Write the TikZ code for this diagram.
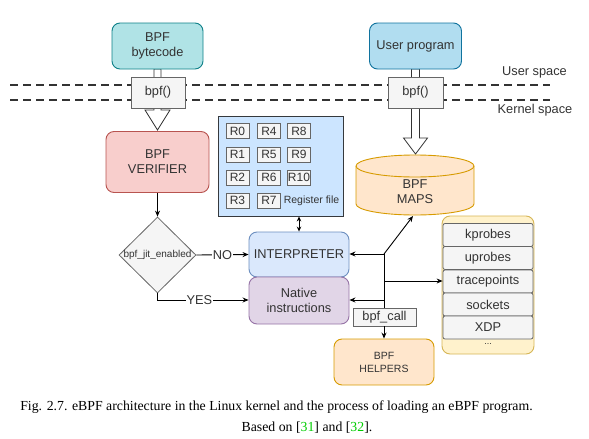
\documentclass[tikz,border=0pt]{standalone}
\usepackage{fontspec}
\setmainfont{Liberation Sans}
\newfontfamily\capfont{Liberation Serif}
\usetikzlibrary{arrows.meta,shapes.geometric}
\definecolor{tealF}{HTML}{B0E3E6}\definecolor{tealS}{HTML}{0E8088}
\definecolor{upF}{HTML}{B1DDF0}\definecolor{upS}{HTML}{10739E}
\definecolor{grF}{HTML}{F5F5F5}\definecolor{grS}{HTML}{666666}
\definecolor{rdF}{HTML}{F8CECC}\definecolor{rdS}{HTML}{B85450}
\definecolor{rfF}{HTML}{CCE5FF}\definecolor{rfS}{HTML}{36393D}
\definecolor{blF}{HTML}{DAE8FC}\definecolor{blS}{HTML}{6C8EBF}
\definecolor{puF}{HTML}{E1D5E7}\definecolor{puS}{HTML}{9673A6}
\definecolor{orF}{HTML}{FFE6CC}\definecolor{orS}{HTML}{D79B00}
\definecolor{yeF}{HTML}{FFF2CC}\definecolor{yeS}{HTML}{D6B656}
\definecolor{txt}{HTML}{333333}
\definecolor{citeG}{HTML}{00CC00}
\tikzset{
  box/.style={draw, line width=0.9pt, rounded corners=8pt, align=center, inner sep=0pt, text=txt,
    font=\fontsize{12.8}{15}\selectfont},
  gbox/.style={draw=grS, fill=grF, line width=0.8pt, inner sep=0pt, text=txt,
    font=\fontsize{12.8}{15}\selectfont},
  reg/.style={gbox, minimum width=23pt, minimum height=15pt, font=\fontsize{12}{14}\selectfont},
  item/.style={gbox, rounded corners=2pt, minimum width=90pt, minimum height=23pt, font=\fontsize{12.8}{15}\selectfont},
  conn/.style={line width=0.9pt, -{Stealth[length=6pt,width=5pt]}},
  blockarrow/.style={draw=txt, fill=white, line width=0.8pt},
  lbl/.style={fill=white, inner sep=1pt, text=txt, font=\fontsize{12.8}{15}\selectfont},
}
\begin{document}
\begin{tikzpicture}[x=1pt,y=-1pt]
\useasboundingbox (0,0) rectangle (589,439);
% dashed separators
\draw[txt, line width=1.4pt, dash pattern=on 8pt off 5pt] (10,85) -- (550,85);
\draw[txt, line width=1.4pt, dash pattern=on 8pt off 5pt] (10,100) -- (550,100);
\node[text=txt, font=\fontsize{12.8}{15}\selectfont] (us) at (534.5,72.5) {User space};
\node[text=txt, font=\fontsize{12.8}{15}\selectfont] (ks) at (535,110) {Kernel space};
% block arrows
\draw[blockarrow] (154,69) -- (154,110) -- (145,110) -- (157.5,130) -- (170,110) -- (161,110) -- (161,69) -- cycle;
\draw[blockarrow] (411.5,69) -- (411.5,138) -- (403.5,138) -- (415.5,154) -- (427.5,138) -- (419.5,138) -- (419.5,69) -- cycle;
% top boxes
\node[box, draw=tealS, fill=tealF, minimum width=91pt, minimum height=46pt] (bytecode) at (157.5,46) {BPF\\bytecode};
\node[box, draw=upS, fill=upF, minimum width=92pt, minimum height=46pt] (userprog) at (415.5,46) {User program};
\node[gbox, minimum width=54pt, minimum height=31pt] (bpfa) at (158,92.5) {bpf()};
\node[gbox, minimum width=55pt, minimum height=31pt] (bpfb) at (415.5,92.5) {bpf()};
% verifier
\node[box, draw=rdS, fill=rdF, minimum width=103pt, minimum height=61pt] (verifier) at (157.5,162) {BPF\\VERIFIER};
% diamond
\node[draw=grS, fill=grF, line width=0.8pt, shape=diamond, inner sep=0pt, minimum width=77pt, minimum height=76pt] (jit) at (157.5,255) {};
\node[text=txt, font=\fontsize{10}{12}\selectfont, inner sep=0pt] (jitt) at (jit.center) {bpf\_jit\_enabled};
% register file
\node[draw=rfS, fill=rfF, line width=0.9pt, minimum width=125pt, minimum height=100pt, inner sep=0pt] (regfile) at (280.5,166) {};
\node[reg] (r0) at (237.5,131) {R0};
\node[reg] (r1) at (237.5,154.5) {R1};
\node[reg] (r2) at (237.5,177.5) {R2};
\node[reg] (r3) at (237.5,200.5) {R3};
\node[reg] (r4) at (269,131) {R4};
\node[reg] (r5) at (269,154.5) {R5};
\node[reg] (r6) at (269,177.5) {R6};
\node[reg] (r7) at (269,200.5) {R7};
\node[reg] (r8) at (299,131) {R8};
\node[reg] (r9) at (299,154.5) {R9};
\node[reg] (r10) at (299,177.5) {R10};
\node[text=txt, font=\fontsize{10.5}{12}\selectfont, inner sep=0pt] (rft) at (311.5,200.5) {Register file};
% interpreter / native
\node[box, draw=blS, fill=blF, minimum width=100pt, minimum height=45pt] (interp) at (299,254.5) {INTERPRETER};
\node[box, draw=puS, fill=puF, minimum width=100pt, minimum height=47pt] (native) at (299,300.5) {Native\\instructions};
% maps cylinder
\draw[draw=orS, fill=orF, line width=0.9pt] (356,166) -- (356,204) arc[start angle=180, end angle=360, x radius=59pt, y radius=11pt] -- (474,166) arc[start angle=0, end angle=180, x radius=59pt, y radius=11pt] -- cycle;
\draw[draw=orS, line width=0.9pt] (356,166) arc[start angle=180, end angle=360, x radius=59pt, y radius=11pt];
\node[text=txt, align=center, font=\fontsize{12.8}{15}\selectfont] (maps) at (415,192) {BPF\\MAPS};
\coordinate (mapsb) at (413,216);
% hooks
\node[box, draw=yeS, fill=yeF, minimum width=92pt, minimum height=138pt] (hooks) at (488,285) {};
\node[item] (kp) at (488,235) {kprobes};
\node[item] (up) at (488,258) {uprobes};
\node[item] (tp) at (488,281.5) {tracepoints};
\node[item] (so) at (488,304.5) {sockets};
\node[item] (xdp) at (488,327.5) {XDP};
\node[text=txt, font=\fontsize{9}{10}\selectfont] (dots) at (488,344) {...};
% bpf_call / helpers
\node[gbox, minimum width=63pt, minimum height=18pt] (bpfcall) at (384.5,317) {bpf\_call};
\node[box, draw=orS, fill=orF, minimum width=100pt, minimum height=46pt, font=\fontsize{10.5}{13}\selectfont] (helpers) at (384,362) {BPF\\HELPERS};
% connectors
\draw[conn] (verifier.south) -- (jit.north);
\draw[conn] (jit.east) -- node[lbl] {NO} (interp.west);
\coordinate (yb) at (157.5,300);
\draw[conn] (jit.south) -- (yb) -- node[lbl, pos=0.46] {YES} (native.west |- yb);
\draw[line width=0.9pt, {Stealth[length=5pt,width=4.5pt]}-{Stealth[length=5pt,width=4.5pt]}] (regfile.south -| 299,0) -- (interp.north -| 299,0);
\coordinate (J) at (384,254);
\coordinate (Jn) at (384,300);
\coordinate (Jt) at (384,281);
\draw[line width=0.9pt] (J) -- (bpfcall.north -| J);
\draw[conn] (J) -- (interp.east |- J);
\draw[conn] (J) -- (mapsb);
\draw[conn] (Jn) -- (native.east |- Jn);
\draw[conn] (Jt) -- (tp.west |- Jt);
\draw[conn] (bpfcall.south -| J) -- (helpers.north -| J);
% caption
\node[font=\capfont\fontsize{13.8}{16}\selectfont, inner sep=0pt] (cap1) at (276.5,407) {Fig. 2.7. eBPF architecture in the Linux kernel and the process of loading an eBPF program.};
\node[font=\capfont\fontsize{13.8}{16}\selectfont, inner sep=0pt] (cap2) at (307,428) {Based on [\textcolor{citeG}{31}] and [\textcolor{citeG}{32}].};
\end{tikzpicture}
\end{document}
